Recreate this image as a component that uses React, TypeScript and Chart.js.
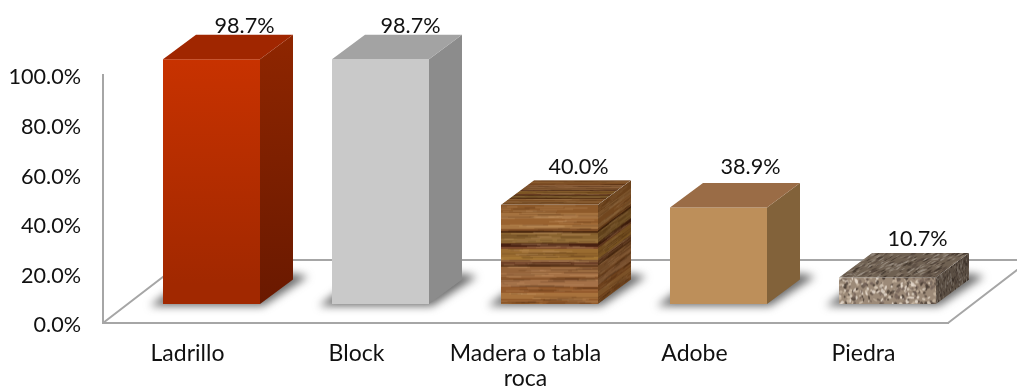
import React, { useEffect, useRef } from "react";
import { Chart, registerables } from "chart.js";

Chart.register(...registerables);

const categories: (string | string[])[] = ["Ladrillo", "Block", ["Madera o tabla", "roca"], "Adobe", "Piedra"];
const values = [98.7, 98.7, 40.0, 38.9, 10.7];
const yMax = 100;
const yStep = 20;

const FONT = "Lato";
const FONT_SIZE = 21.6;
const CAT_FONT_SIZE = 23;
const TEXT = "#111";
const AXIS = "#A6A6A6";
// bars sit inside the 3D floor
const BAR_SHIFT_X = 24;
const BAR_SHIFT_Y = -19;
const BOX_DX = 33;
const BOX_DY = 24.5;
const FLOOR_DX = 82;
const FLOOR_DY = 63;
const LABEL_LIFT = [1.7, 1.7, 6.3, 9, 7];
const LABEL_NUDGE = [0, -3, -4, -1, -3];
const Y_LABEL_RIGHT = 81;
const Y_LABEL_DROP = 2.4;

function lcg(seed: number) {
  let s = seed;
  return () => {
    s = (s * 1664525 + 1013904223) % 4294967296;
    return s / 4294967296;
  };
}

function mk(w: number, h: number) {
  const c = document.createElement("canvas");
  c.width = w;
  c.height = h;
  return c;
}

function woodTexture() {
  const w = 97, h = 101;
  const raw = mk(w, h);
  const g = raw.getContext("2d")!;
  const bands: [number, string][] = [
    [0, "#8E5A2A"], [8, "#A5723F"], [14, "#99622F"], [20, "#A87642"], [24, "#8A562A"], [26, "#553014"],
    [28, "#8A6430"], [34, "#96703A"], [38, "#6A4220"], [39, "#4A2212"], [42, "#7C482C"], [44, "#9A6C30"],
    [52, "#A47634"], [55, "#8F623C"], [57, "#704228"], [60, "#643C1E"], [62, "#96643A"], [68, "#A67246"],
    [72, "#8C582E"], [75, "#A57148"], [82, "#945A2C"], [88, "#A8723C"], [94, "#925A2A"], [101, "#9C642E"],
  ];
  for (let i = 0; i < bands.length - 1; i++) {
    g.fillStyle = bands[i][1];
    g.fillRect(0, bands[i][0], w, bands[i + 1][0] - bands[i][0]);
  }
  const r = lcg(7);
  for (let i = 0; i < 220; i++) {
    const light = r() > 0.5;
    g.fillStyle = light ? "rgba(225,180,130,0.16)" : "rgba(60,28,10,0.16)";
    g.fillRect(r() * w - 10, r() * h, 8 + r() * 40, 1 + r());
  }
  const c = mk(w, h);
  const g2 = c.getContext("2d")!;
  g2.drawImage(raw, 0, 0);
  g2.filter = "blur(0.7px)";
  g2.drawImage(raw, 0, 0);
  return c;
}

function stoneTexture() {
  const w = 97, h = 27;
  const raw = mk(w, h);
  const g = raw.getContext("2d")!;
  g.fillStyle = "#9C8A78";
  g.fillRect(0, 0, w, h);
  const r = lcg(21);
  const cols = ["#DCCFBF", "#EADFD2", "#5F5046", "#75645A", "#C8B6A2", "#4A3D35"];
  for (let i = 0; i < 260; i++) {
    g.fillStyle = cols[Math.floor(r() * cols.length)];
    g.globalAlpha = 0.8;
    g.beginPath();
    g.ellipse(r() * w, r() * h, 0.8 + r() * 1.6, 0.7 + r() * 1.2, r() * 3, 0, 6.3);
    g.fill();
  }
  g.globalAlpha = 1;
  const c = mk(w, h);
  const g2 = c.getContext("2d")!;
  g2.filter = "blur(0.4px)";
  g2.drawImage(raw, 0, 0);
  return c;
}

export default function App() {
  const ref = useRef<HTMLCanvasElement>(null);
  useEffect(() => {
    document.body.style.margin = "0";
    const canvas = ref.current!;
    const ctx = canvas.getContext("2d")!;
    const wood = woodTexture();
    const stone = stoneTexture();
    const woodPat = ctx.createPattern(wood, "repeat")!;
    const stonePat = ctx.createPattern(stone, "repeat")!;

    const vgrad = (top: number, bottom: number, a: string, b: string) => {
      const gr = ctx.createLinearGradient(0, top, 0, bottom);
      gr.addColorStop(0, a);
      gr.addColorStop(1, b);
      return gr;
    };

    const sideFill = [
      vgrad(34, 304, "#8F2600", "#6A1900"),
      "#8C8C8C",
      null,
      "#82623A",
      null,
    ];
    const topFill = ["#A02600", "#A3A3A3", null, "#9A6C46", null];

    const trace = (poly: number[][]) => {
      ctx.beginPath();
      poly.forEach((p, i) => (i ? ctx.lineTo(p[0], p[1]) : ctx.moveTo(p[0], p[1])));
      ctx.closePath();
    };

    const texFace = (img: HTMLCanvasElement, poly: number[][], m: number[], overlay: string) => {
      ctx.save();
      trace(poly);
      ctx.clip();
      ctx.transform(m[0], m[1], m[2], m[3], m[4], m[5]);
      ctx.drawImage(img, 0, 0);
      ctx.restore();
      trace(poly);
      ctx.fillStyle = overlay;
      ctx.fill();
    };

    const fillPoly = (poly: number[][], fill: any) => {
      trace(poly);
      ctx.fillStyle = fill;
      ctx.fill();
    };

    const box3d = {
      id: "box3d",
      beforeDatasetsDraw(chart: any) {
        const { left, right, bottom } = chart.chartArea;
        const W = chart.width;
        // floor
        ctx.save();
        ctx.strokeStyle = AXIS;
        ctx.lineWidth = 2;
        ctx.beginPath();
        ctx.moveTo(left, bottom);
        ctx.lineTo(left + FLOOR_DX, bottom - FLOOR_DY);
        ctx.lineTo(W + 40, bottom - FLOOR_DY);
        ctx.moveTo(right, bottom);
        ctx.lineTo(right + FLOOR_DX, bottom - FLOOR_DY);
        ctx.stroke();
        ctx.restore();
        // value-axis labels, a little below their tick positions
        const yScale = chart.scales.y;
        ctx.save();
        ctx.font = `${FONT_SIZE}px ${FONT}`;
        ctx.fillStyle = TEXT;
        ctx.textAlign = "right";
        ctx.textBaseline = "middle";
        yScale.ticks.forEach((t: any, i: number) => {
          ctx.fillText(Number(t.value).toFixed(1) + "%", Y_LABEL_RIGHT, yScale.getPixelForTick(i) + Y_LABEL_DROP);
        });
        ctx.restore();
        // bar shadows
        const meta = chart.getDatasetMeta(0);
        meta.data.forEach((el: any) => {
          const x0 = el.x - el.width / 2 + BAR_SHIFT_X;
          const x1 = x0 + el.width;
          const by = bottom + BAR_SHIFT_Y;
          ctx.save();
          ctx.filter = "blur(4px)";
          ctx.beginPath();
          ctx.moveTo(x0 - 13, by + 2);
          ctx.lineTo(x1 + 3, by + 2);
          ctx.lineTo(x1 + BOX_DX + 15, by - BOX_DY - 3);
          ctx.lineTo(x1 + BOX_DX, by - BOX_DY - 6);
          ctx.lineTo(x0 + 8, by - 14);
          ctx.closePath();
          ctx.fillStyle = "rgba(70,70,70,0.8)";
          ctx.fill();
          ctx.restore();
        });
        // align textures with their bars
        const w = meta.data[2];
        woodPat.setTransform(new DOMMatrix().translate(w.x - w.width / 2, w.y));
        const s = meta.data[4];
        stonePat.setTransform(new DOMMatrix().translate(s.x - s.width / 2, s.y));
      },
      beforeDatasetDraw() {
        ctx.save();
        ctx.translate(BAR_SHIFT_X, BAR_SHIFT_Y);
      },
      afterDatasetDraw() {
        ctx.restore();
      },
      afterDatasetsDraw(chart: any) {
        const meta = chart.getDatasetMeta(0);
        const by = chart.chartArea.bottom + BAR_SHIFT_Y;
        meta.data.forEach((el: any, i: number) => {
          const x0 = el.x - el.width / 2 + BAR_SHIFT_X;
          const x1 = x0 + el.width;
          const ty = el.y + BAR_SHIFT_Y;
          const side = [
            [x1, ty],
            [x1 + BOX_DX, ty - BOX_DY],
            [x1 + BOX_DX, by - BOX_DY],
            [x1, by],
          ];
          const top = [
            [x0, ty],
            [x0 + BOX_DX, ty - BOX_DY],
            [x1 + BOX_DX, ty - BOX_DY],
            [x1, ty],
          ];
          if (i === 2) {
            texFace(wood, side, [BOX_DX / wood.width, -BOX_DY / wood.width, 0, (by - ty) / wood.height, x1, ty], "rgba(40,20,0,0.35)");
            texFace(wood, top, [1, 0, BOX_DX / wood.height, -BOX_DY / wood.height, x0, ty], "rgba(40,20,0,0.25)");
          } else if (i === 4) {
            texFace(stone, side, [BOX_DX / stone.width, -BOX_DY / stone.width, 0, 1, x1, ty], "rgba(35,28,22,0.55)");
            texFace(stone, top, [1, 0, BOX_DX / stone.height, -BOX_DY / stone.height, x0, ty], "rgba(50,40,32,0.42)");
          } else {
            fillPoly(side, sideFill[i]);
            fillPoly(top, topFill[i]);
          }
          ctx.save();
          ctx.font = `${FONT_SIZE}px ${FONT}`;
          ctx.fillStyle = TEXT;
          ctx.textAlign = "center";
          ctx.textBaseline = "alphabetic";
          ctx.fillText(values[i].toFixed(1) + "%", (x0 + x1) / 2 + BOX_DX + LABEL_NUDGE[i], ty - BOX_DY - LABEL_LIFT[i]);
          ctx.restore();
        });
      },
    };

    const chart = new Chart(canvas, {
      type: "bar",
      data: {
        labels: categories as any,
        datasets: [
          {
            data: values,
            clip: false as any,
            backgroundColor: [
              vgrad(59, 304, "#CB3300", "#A12800"),
              "#C9C9C9",
              woodPat,
              "#BD8F5A",
              stonePat,
            ] as any,
            borderWidth: 0,
            barPercentage: 0.574,
            categoryPercentage: 1,
          },
        ],
      },
      options: {
        responsive: false,
        animation: false,
        devicePixelRatio: 1,
        layout: { padding: { top: 75, right: 69, left: 0, bottom: 0 } },
        plugins: { legend: { display: false }, tooltip: { enabled: false }, title: { display: false } },
        scales: {
          x: {
            grid: { display: false, drawTicks: false },
            border: { display: true, color: AXIS, width: 2 },
            afterFit(a: any) {
              a.height = 65;
            },
            ticks: {
              autoSkip: false,
              maxRotation: 0,
              minRotation: 0,
              color: TEXT,
              padding: 18,
              font: { family: FONT, size: CAT_FONT_SIZE, lineHeight: 1.1 },
            },
          },
          y: {
            min: 0,
            max: yMax,
            grid: { display: false, drawTicks: false },
            border: { display: true, color: AXIS, width: 2 },
            afterFit(a: any) {
              a.width = 103;
            },
            ticks: {
              stepSize: yStep,
              display: false,
            },
          },
        },
      },
      plugins: [box3d as any],
    });
    return () => chart.destroy();
  }, []);
  return <canvas ref={ref} width={1017} height={388} style={{ display: "block" }} />;
}
